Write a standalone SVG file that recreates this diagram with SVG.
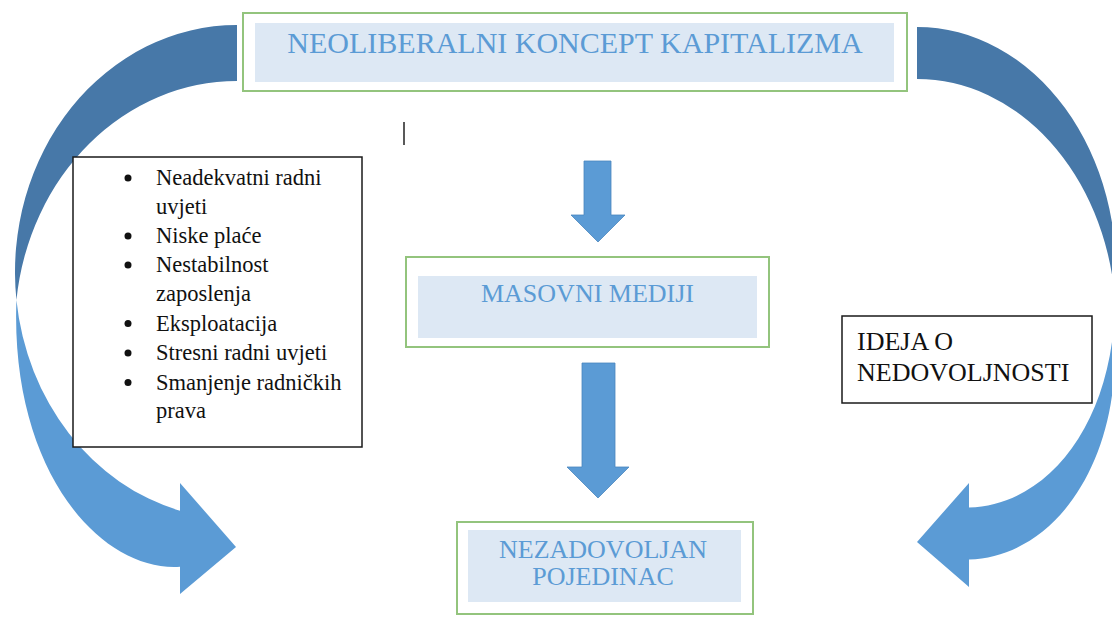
<svg xmlns="http://www.w3.org/2000/svg" width="1112" height="618" viewBox="0 0 1112 618">
<style>
.outer{fill:#ffffff;stroke:#93c47d;stroke-width:2}
.inner{fill:#dde8f4;stroke:none}
.ttl{fill:#5b9bd5;text-anchor:middle}
.plain{fill:#ffffff;stroke:#1a1a1a;stroke-width:1.5}
.txt{fill:#111111}
.dark{fill:#4778a8}
.light{fill:#5b9bd5}
.sarrow{fill:#5b9bd5;stroke:#4a86be;stroke-width:0.8}
</style>
<rect width="1112" height="618" fill="#ffffff"/>
<g id="connectors">
  <path class="dark" d="M237,25 A222,247 0 0 0 16.43,300 A222,247 0 0 1 237,81 Z"/>
  <path class="light" d="M16.43,300 A222,247 0 0 0 180,510.7 L180,483 L236,547 L180,594 L180,566.7 C100,572 10,470 16.43,300 Z"/>
  <path class="dark" d="M917,27 A199,244.5 0 0 1 1114.9,297.5 A199,244.5 0 0 0 917,79 Z"/>
  <path class="light" d="M1115,297.5 C1115,420 1050,505 969,507.5 L969,483 L917,542 L969,587 L969,559.5 C1050,557 1115,472 1115,352 Z"/>
  <path class="sarrow" d="M584,161 L611,161 L611,215 L625,215 L598,242 L571,215 L584,215 Z"/>
  <path class="sarrow" d="M582,363 L615,363 L615,467 L629,467 L598,498 L567,467 L582,467 Z"/>
</g>
<g font-family="'Liberation Serif', 'Times New Roman', Tinos, 'DejaVu Serif', serif">
<g id="node-neoliberalni">
  <rect class="outer" x="243" y="13" width="664" height="78"/>
  <rect class="inner" x="255" y="23" width="639" height="59"/>
  <text class="ttl" x="575" y="53" font-size="30">NEOLIBERALNI KONCEPT KAPITALIZMA</text>
</g>
<line x1="404" y1="122" x2="404" y2="145" stroke="#222222" stroke-width="1.5"/>
<g id="node-masovni">
  <rect class="outer" x="406" y="257" width="363" height="90"/>
  <rect class="inner" x="418" y="276" width="339" height="62"/>
  <text class="ttl" x="587.5" y="302" font-size="26">MASOVNI MEDIJI</text>
</g>
<g id="node-nezadovoljan">
  <rect class="outer" x="457" y="522" width="296" height="92"/>
  <rect class="inner" x="468" y="530" width="273" height="72"/>
  <text class="ttl" x="603" y="558" font-size="26">NEZADOVOLJAN</text>
  <text class="ttl" x="603" y="585" font-size="26">POJEDINAC</text>
</g>
<g id="node-uvjeti">
  <rect class="plain" x="73" y="157" width="289" height="290"/>
  <g class="txt" font-size="22.5">
    <circle cx="128" cy="178" r="3.5"/>
    <text x="156" y="185">Neadekvatni radni</text>
    <text x="156" y="214">uvjeti</text>
    <circle cx="128" cy="236" r="3.5"/>
    <text x="156" y="243">Niske plaće</text>
    <circle cx="128" cy="265" r="3.5"/>
    <text x="156" y="272">Nestabilnost</text>
    <text x="156" y="301">zaposlenja</text>
    <circle cx="128" cy="323.5" r="3.5"/>
    <text x="156" y="330.5">Eksploatacija</text>
    <circle cx="128" cy="353" r="3.5"/>
    <text x="156" y="360">Stresni radni uvjeti</text>
    <circle cx="128" cy="382.5" r="3.5"/>
    <text x="156" y="389.5">Smanjenje radničkih</text>
    <text x="156" y="418">prava</text>
  </g>
</g>
<g id="node-ideja">
  <rect class="plain" x="842" y="316" width="250" height="87"/>
  <text class="txt" x="857" y="350" font-size="26">IDEJA O</text>
  <text class="txt" x="857" y="381" font-size="26">NEDOVOLJNOSTI</text>
</g>
</g>
</svg>
